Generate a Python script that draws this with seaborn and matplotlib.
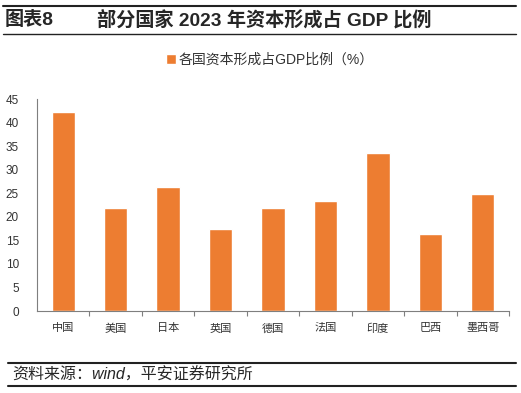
import matplotlib
matplotlib.use("Agg")
import matplotlib.pyplot as plt
from matplotlib.lines import Line2D
import seaborn as sns
import pandas as pd

countries = ["中国", "美国", "日本", "英国", "德国", "法国", "印度", "巴西", "墨西哥"]
values = [42.2, 21.9, 26.4, 17.4, 21.9, 23.3, 33.6, 16.3, 24.8]
yticks = [0, 5, 10, 15, 20, 25, 30, 35, 40, 45]
series_name = "各国资本形成占GDP比例（%）"
title_left = "图表8"
title_main = "部分国家 2023 年资本形成占 GDP 比例"
source = "资料来源：wind，平安证券研究所"

sns.set_theme(style="white")
plt.rcParams['font.family'] = ['Liberation Sans', 'Noto Sans CJK SC', 'DejaVu Sans']

df = pd.DataFrame({"country": countries, "value": values})
W, H = 521, 393
fig = plt.figure(figsize=(W / 100, H / 100), dpi=100)
ax = fig.add_axes([37 / W, 1 - 311 / H, (509 - 37) / W, (311 - 99) / H])

color = "#ED7D31"
sns.barplot(data=df, x="country", y="value", color=color, width=0.445,
            saturation=1, ax=ax, label=series_name)

ax.set_ylim(0, 45)
ax.set_xlim(-0.5, len(countries) - 0.5)
ax.set_yticks(yticks)
ax.set_yticklabels([str(v) for v in yticks], fontsize=8.5, color="#333333")
ax.set_xlabel("")
ax.set_ylabel("")
for s in ["top", "right"]:
    ax.spines[s].set_visible(False)
for s in ["left", "bottom"]:
    ax.spines[s].set_color("#7f7f7f")
    ax.spines[s].set_linewidth(0.8)
ax.set_xticks(range(len(countries)))
ax.set_xticklabels(countries)
ax.set_xticks([i + 0.5 for i in range(len(countries))], minor=True)
ax.tick_params(axis="x", which="major", labelsize=8, colors="#333333", pad=9, length=0, bottom=False)
ax.tick_params(axis="x", which="minor", length=3.5, color="#7f7f7f", width=0.8,
               direction="out", bottom=True)
ax.tick_params(axis="y", pad=13, length=0)

leg = ax.legend(loc="center", bbox_to_anchor=(270 / W, 1 - 60 / H),
                bbox_transform=fig.transFigure, frameon=False, fontsize=10,
                handlelength=0.7, handleheight=0.7, handletextpad=0.2)
for t in leg.get_texts():
    t.set_color("#333333")

# header
fig.add_artist(Line2D([3 / W, 516 / W], [1 - 6 / H, 1 - 6 / H], color="#222222", lw=1.5))
fig.add_artist(Line2D([3 / W, 516 / W], [1 - 34 / H, 1 - 34 / H], color="#222222", lw=1.0))
fig.text(5 / W, 1 - 20 / H, title_left, fontsize=13.8, fontweight="bold", va="center", ha="left")
fig.text(97 / W, 1 - 20 / H, title_main, fontsize=13.8, fontweight="bold", va="center", ha="left")

# footer
fig.add_artist(Line2D([8 / W, 516 / W], [1 - 363 / H, 1 - 363 / H], color="#222222", lw=1.5))
fig.add_artist(Line2D([8 / W, 516 / W], [1 - 386 / H, 1 - 386 / H], color="#222222", lw=1.5))
fig.text(12 / W, 1 - 375 / H, source, fontsize=11.5, style="italic", va="center", ha="left")

fig.savefig("out.png", dpi=100)
